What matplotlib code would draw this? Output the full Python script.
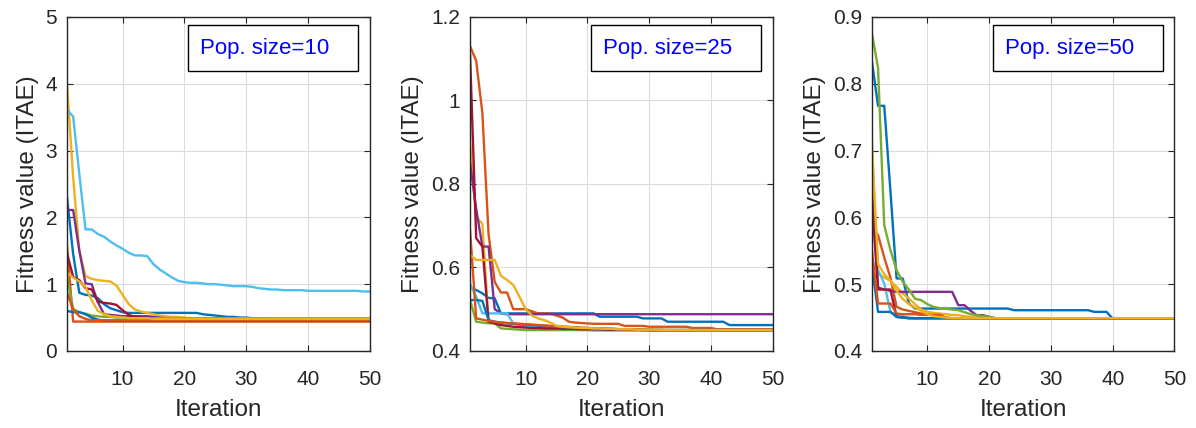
import matplotlib
matplotlib.use("Agg")
import matplotlib.pyplot as plt
from matplotlib.patches import Rectangle
from matplotlib.ticker import FuncFormatter

plt.rcParams['font.family'] = ['Liberation Sans', 'DejaVu Sans']

iteracoes = list(range(1, 51))

# Pop. size = 10
p10_blue1 = [2.30, 1.45, 0.87, 0.84, 0.83, 0.79, 0.70, 0.64, 0.61, 0.58,
             0.57, 0.57, 0.57, 0.57, 0.57, 0.57, 0.57, 0.57, 0.57, 0.57,
             0.57, 0.57, 0.55, 0.54, 0.53, 0.52, 0.51, 0.51, 0.50, 0.50,
             0.49, 0.49, 0.49, 0.48, 0.48, 0.48, 0.48, 0.48, 0.48, 0.48,
             0.48, 0.48, 0.48, 0.48, 0.48, 0.48, 0.48, 0.48, 0.48, 0.48]
p10_orange1 = [1.58, 0.44, 0.44, 0.44, 0.44, 0.44, 0.44, 0.44, 0.44, 0.44,
               0.44, 0.44, 0.44, 0.44, 0.44, 0.44, 0.44, 0.44, 0.44, 0.44,
               0.44, 0.44, 0.44, 0.44, 0.44, 0.44, 0.44, 0.44, 0.44, 0.44,
               0.44, 0.44, 0.44, 0.44, 0.44, 0.44, 0.44, 0.44, 0.44, 0.44,
               0.44, 0.44, 0.44, 0.44, 0.44, 0.44, 0.44, 0.44, 0.44, 0.44]
p10_yellow1 = [4.00, 2.60, 1.50, 1.12, 1.08, 1.06, 1.05, 1.04, 0.98, 0.84,
               0.70, 0.62, 0.59, 0.57, 0.55, 0.53, 0.52, 0.51, 0.51, 0.50,
               0.49, 0.49, 0.49, 0.49, 0.49, 0.48, 0.48, 0.48, 0.48, 0.48,
               0.48, 0.48, 0.48, 0.48, 0.48, 0.48, 0.48, 0.48, 0.48, 0.48,
               0.48, 0.48, 0.48, 0.48, 0.48, 0.48, 0.48, 0.48, 0.48, 0.48]
p10_purple = [2.11, 2.11, 1.50, 1.01, 1.00, 0.73, 0.55, 0.54, 0.53, 0.52,
              0.52, 0.52, 0.52, 0.52, 0.51, 0.50, 0.49, 0.49, 0.49, 0.49,
              0.47, 0.47, 0.47, 0.47, 0.47, 0.47, 0.47, 0.47, 0.47, 0.47,
              0.47, 0.47, 0.47, 0.47, 0.47, 0.47, 0.47, 0.47, 0.47, 0.47,
              0.47, 0.47, 0.47, 0.47, 0.47, 0.47, 0.47, 0.47, 0.47, 0.47]
p10_green = [1.11, 0.63, 0.58, 0.56, 0.53, 0.52, 0.51, 0.51, 0.50, 0.50,
             0.49, 0.49, 0.49, 0.49, 0.49, 0.49, 0.49, 0.49, 0.49, 0.49,
             0.49, 0.49, 0.49, 0.49, 0.49, 0.49, 0.49, 0.49, 0.49, 0.49,
             0.49, 0.49, 0.49, 0.49, 0.49, 0.49, 0.49, 0.49, 0.49, 0.49,
             0.49, 0.49, 0.49, 0.49, 0.49, 0.49, 0.49, 0.49, 0.49, 0.49]
p10_lightblue = [3.61, 3.51, 2.65, 1.82, 1.82, 1.75, 1.71, 1.64, 1.58, 1.53,
                 1.47, 1.43, 1.43, 1.42, 1.30, 1.22, 1.16, 1.10, 1.05, 1.03,
                 1.02, 1.02, 1.01, 1.00, 1.00, 0.99, 0.98, 0.97, 0.97, 0.97,
                 0.96, 0.94, 0.93, 0.92, 0.92, 0.91, 0.91, 0.91, 0.91, 0.90,
                 0.90, 0.90, 0.90, 0.90, 0.90, 0.90, 0.90, 0.90, 0.89, 0.89]
p10_darkred = [1.46, 1.11, 1.06, 0.94, 0.92, 0.74, 0.72, 0.71, 0.69, 0.61,
               0.54, 0.51, 0.50, 0.49, 0.48, 0.47, 0.47, 0.47, 0.47, 0.47,
               0.47, 0.47, 0.47, 0.47, 0.47, 0.47, 0.47, 0.47, 0.47, 0.47,
               0.47, 0.47, 0.47, 0.47, 0.47, 0.47, 0.47, 0.47, 0.47, 0.47,
               0.47, 0.47, 0.47, 0.47, 0.47, 0.47, 0.47, 0.47, 0.47, 0.47]
p10_blue2 = [0.60, 0.58, 0.58, 0.55, 0.50, 0.47, 0.45, 0.45, 0.45, 0.45,
             0.45, 0.45, 0.45, 0.45, 0.45, 0.45, 0.45, 0.45, 0.45, 0.45,
             0.45, 0.45, 0.45, 0.45, 0.45, 0.45, 0.45, 0.45, 0.45, 0.45,
             0.45, 0.45, 0.45, 0.45, 0.45, 0.45, 0.45, 0.45, 0.45, 0.45,
             0.45, 0.45, 0.45, 0.45, 0.45, 0.45, 0.45, 0.45, 0.45, 0.45]
p10_orange2 = [0.88, 0.62, 0.52, 0.48, 0.46, 0.46, 0.46, 0.46, 0.46, 0.46,
               0.46, 0.46, 0.46, 0.46, 0.46, 0.46, 0.46, 0.46, 0.46, 0.46,
               0.46, 0.46, 0.46, 0.46, 0.46, 0.46, 0.46, 0.46, 0.46, 0.46,
               0.46, 0.46, 0.46, 0.46, 0.46, 0.46, 0.46, 0.46, 0.46, 0.46,
               0.46, 0.46, 0.46, 0.46, 0.46, 0.46, 0.46, 0.46, 0.46, 0.46]
p10_yellow2 = [1.17, 1.10, 1.04, 0.96, 0.76, 0.60, 0.55, 0.52, 0.51, 0.50,
               0.49, 0.49, 0.49, 0.49, 0.48, 0.48, 0.48, 0.48, 0.48, 0.48,
               0.48, 0.48, 0.48, 0.48, 0.48, 0.48, 0.48, 0.48, 0.48, 0.48,
               0.48, 0.48, 0.48, 0.48, 0.48, 0.48, 0.48, 0.48, 0.48, 0.48,
               0.48, 0.48, 0.48, 0.48, 0.48, 0.48, 0.48, 0.48, 0.48, 0.48]

# Pop. size = 25
p25_blue1 = [0.552, 0.546, 0.538, 0.527, 0.526, 0.490, 0.490, 0.490, 0.490, 0.490,
             0.490, 0.490, 0.490, 0.490, 0.490, 0.490, 0.490, 0.490, 0.490, 0.490,
             0.490, 0.482, 0.482, 0.482, 0.482, 0.482, 0.482, 0.482, 0.478, 0.478,
             0.478, 0.478, 0.470, 0.470, 0.470, 0.470, 0.470, 0.470, 0.470, 0.470,
             0.470, 0.470, 0.462, 0.462, 0.462, 0.462, 0.462, 0.462, 0.462, 0.462]
p25_orange1 = [1.130, 1.095, 0.970, 0.680, 0.565, 0.540, 0.540, 0.500, 0.500, 0.500,
               0.495, 0.490, 0.490, 0.490, 0.485, 0.480, 0.470, 0.468, 0.467, 0.466,
               0.465, 0.465, 0.465, 0.465, 0.465, 0.460, 0.460, 0.460, 0.460, 0.458,
               0.458, 0.458, 0.458, 0.458, 0.458, 0.458, 0.455, 0.455, 0.455, 0.455,
               0.452, 0.452, 0.452, 0.452, 0.452, 0.452, 0.452, 0.452, 0.452, 0.452]
p25_yellow1 = [0.896, 0.720, 0.705, 0.470, 0.468, 0.468, 0.467, 0.466, 0.465, 0.464,
               0.463, 0.462, 0.461, 0.460, 0.460, 0.459, 0.458, 0.457, 0.456, 0.455,
               0.455, 0.454, 0.454, 0.453, 0.453, 0.452, 0.452, 0.452, 0.451, 0.451,
               0.451, 0.451, 0.450, 0.450, 0.450, 0.450, 0.450, 0.450, 0.450, 0.450,
               0.450, 0.450, 0.450, 0.450, 0.450, 0.450, 0.450, 0.450, 0.450, 0.450]
p25_purple = [0.850, 0.740, 0.650, 0.650, 0.500, 0.490, 0.488, 0.488, 0.488, 0.488,
              0.488, 0.488, 0.488, 0.488, 0.488, 0.488, 0.488, 0.488, 0.488, 0.488,
              0.488, 0.488, 0.488, 0.488, 0.488, 0.488, 0.488, 0.488, 0.488, 0.488,
              0.488, 0.488, 0.488, 0.488, 0.488, 0.488, 0.488, 0.488, 0.488, 0.488,
              0.488, 0.488, 0.488, 0.488, 0.488, 0.488, 0.488, 0.488, 0.488, 0.488]
p25_green = [0.522, 0.470, 0.468, 0.466, 0.466, 0.454, 0.453, 0.452, 0.451, 0.450,
             0.450, 0.450, 0.450, 0.450, 0.450, 0.450, 0.450, 0.450, 0.450, 0.450,
             0.449, 0.449, 0.449, 0.449, 0.449, 0.449, 0.449, 0.449, 0.449, 0.449,
             0.449, 0.449, 0.449, 0.449, 0.449, 0.449, 0.449, 0.449, 0.449, 0.449,
             0.449, 0.449, 0.449, 0.449, 0.449, 0.449, 0.449, 0.449, 0.449, 0.449]
p25_lightblue = [0.560, 0.530, 0.490, 0.490, 0.490, 0.490, 0.490, 0.466, 0.462, 0.460,
                 0.459, 0.458, 0.457, 0.456, 0.455, 0.455, 0.454, 0.454, 0.453, 0.453,
                 0.452, 0.452, 0.452, 0.451, 0.451, 0.451, 0.451, 0.450, 0.450, 0.450,
                 0.450, 0.450, 0.450, 0.450, 0.450, 0.450, 0.450, 0.450, 0.450, 0.450,
                 0.450, 0.450, 0.450, 0.450, 0.450, 0.450, 0.450, 0.450, 0.450, 0.450]
p25_darkred = [1.110, 0.670, 0.650, 0.470, 0.466, 0.462, 0.460, 0.458, 0.457, 0.456,
               0.455, 0.455, 0.454, 0.454, 0.454, 0.453, 0.453, 0.453, 0.452, 0.452,
               0.452, 0.452, 0.451, 0.451, 0.451, 0.451, 0.451, 0.451, 0.450, 0.450,
               0.450, 0.450, 0.450, 0.450, 0.450, 0.450, 0.450, 0.450, 0.450, 0.450,
               0.450, 0.450, 0.450, 0.450, 0.450, 0.450, 0.450, 0.450, 0.450, 0.450]
p25_blue2 = [0.522, 0.522, 0.520, 0.474, 0.470, 0.468, 0.466, 0.465, 0.464, 0.463,
             0.462, 0.461, 0.460, 0.459, 0.458, 0.457, 0.456, 0.456, 0.455, 0.455,
             0.454, 0.454, 0.453, 0.453, 0.452, 0.452, 0.452, 0.451, 0.451, 0.451,
             0.450, 0.450, 0.450, 0.450, 0.450, 0.450, 0.450, 0.450, 0.450, 0.450,
             0.450, 0.450, 0.450, 0.450, 0.450, 0.450, 0.450, 0.450, 0.450, 0.450]
p25_orange2 = [0.690, 0.478, 0.475, 0.472, 0.470, 0.468, 0.467, 0.466, 0.465, 0.464,
               0.463, 0.462, 0.461, 0.460, 0.459, 0.458, 0.457, 0.456, 0.455, 0.455,
               0.454, 0.454, 0.453, 0.453, 0.452, 0.452, 0.451, 0.451, 0.451, 0.450,
               0.450, 0.450, 0.450, 0.450, 0.450, 0.450, 0.450, 0.450, 0.450, 0.450,
               0.450, 0.450, 0.450, 0.450, 0.450, 0.450, 0.450, 0.450, 0.450, 0.450]
p25_yellow2 = [0.630, 0.618, 0.618, 0.618, 0.618, 0.580, 0.570, 0.558, 0.530, 0.500,
               0.485, 0.478, 0.474, 0.468, 0.460, 0.458, 0.457, 0.456, 0.455, 0.455,
               0.454, 0.454, 0.453, 0.453, 0.452, 0.452, 0.452, 0.451, 0.451, 0.451,
               0.451, 0.450, 0.450, 0.450, 0.450, 0.450, 0.450, 0.450, 0.450, 0.450,
               0.450, 0.450, 0.450, 0.450, 0.450, 0.450, 0.450, 0.450, 0.450, 0.450]

# Pop. size = 50
p50_blue1 = [0.8335, 0.767, 0.767, 0.640, 0.5085, 0.5085, 0.471, 0.4635, 0.4635, 0.4635,
             0.4635, 0.4635, 0.4635, 0.4635, 0.4635, 0.4635, 0.4635, 0.4635, 0.4635, 0.4635,
             0.4635, 0.4635, 0.4635, 0.461, 0.461, 0.461, 0.461, 0.461, 0.461, 0.461,
             0.461, 0.461, 0.461, 0.461, 0.461, 0.461, 0.4585, 0.4585, 0.4585, 0.4485,
             0.4485, 0.4485, 0.4485, 0.4485, 0.4485, 0.4485, 0.4485, 0.4485, 0.4485, 0.4485]
p50_orange1 = [0.5835, 0.5735, 0.540, 0.510, 0.466, 0.462, 0.460, 0.458, 0.456, 0.455,
               0.454, 0.452, 0.450, 0.449, 0.449, 0.449, 0.449, 0.449, 0.449, 0.449,
               0.449, 0.449, 0.449, 0.449, 0.449, 0.449, 0.449, 0.449, 0.449, 0.449,
               0.449, 0.449, 0.449, 0.449, 0.449, 0.449, 0.449, 0.449, 0.449, 0.449,
               0.449, 0.449, 0.449, 0.449, 0.449, 0.449, 0.449, 0.449, 0.449, 0.449]
p50_yellow1 = [0.7135, 0.516, 0.510, 0.505, 0.496, 0.486, 0.4785, 0.470, 0.462, 0.4585,
               0.457, 0.456, 0.455, 0.454, 0.4535, 0.452, 0.451, 0.450, 0.449, 0.449,
               0.449, 0.449, 0.449, 0.449, 0.449, 0.449, 0.449, 0.449, 0.449, 0.449,
               0.449, 0.449, 0.449, 0.449, 0.449, 0.449, 0.449, 0.449, 0.449, 0.449,
               0.449, 0.449, 0.449, 0.449, 0.449, 0.449, 0.449, 0.449, 0.449, 0.449]
p50_purple = [0.620, 0.495, 0.492, 0.490, 0.4885, 0.4885, 0.4885, 0.4885, 0.4885, 0.4885,
              0.4885, 0.4885, 0.4885, 0.4885, 0.4685, 0.4685, 0.460, 0.4535, 0.4535, 0.451,
              0.449, 0.449, 0.449, 0.449, 0.449, 0.449, 0.449, 0.449, 0.449, 0.449,
              0.449, 0.449, 0.449, 0.449, 0.449, 0.449, 0.449, 0.449, 0.449, 0.449,
              0.449, 0.449, 0.449, 0.449, 0.449, 0.449, 0.449, 0.449, 0.449, 0.449]
p50_green = [0.876, 0.8235, 0.5885, 0.551, 0.521, 0.5035, 0.492, 0.478, 0.476, 0.470,
             0.466, 0.464, 0.463, 0.462, 0.461, 0.458, 0.455, 0.4535, 0.452, 0.451,
             0.449, 0.449, 0.449, 0.449, 0.449, 0.449, 0.449, 0.449, 0.449, 0.449,
             0.449, 0.449, 0.449, 0.449, 0.449, 0.449, 0.449, 0.449, 0.449, 0.449,
             0.449, 0.449, 0.449, 0.449, 0.449, 0.449, 0.449, 0.449, 0.449, 0.449]
p50_lightblue = [0.5335, 0.521, 0.501, 0.4585, 0.4535, 0.452, 0.450, 0.449, 0.449, 0.449,
                 0.449, 0.449, 0.449, 0.449, 0.449, 0.449, 0.449, 0.449, 0.449, 0.449,
                 0.449, 0.449, 0.449, 0.449, 0.449, 0.449, 0.449, 0.449, 0.449, 0.449,
                 0.449, 0.449, 0.449, 0.449, 0.449, 0.449, 0.449, 0.449, 0.449, 0.449,
                 0.449, 0.449, 0.449, 0.449, 0.449, 0.449, 0.449, 0.449, 0.449, 0.449]
p50_darkred = [0.646, 0.492, 0.492, 0.492, 0.451, 0.450, 0.449, 0.449, 0.449, 0.449,
               0.449, 0.449, 0.449, 0.449, 0.449, 0.449, 0.449, 0.449, 0.449, 0.449,
               0.449, 0.449, 0.449, 0.449, 0.449, 0.449, 0.449, 0.449, 0.449, 0.449,
               0.449, 0.449, 0.449, 0.449, 0.449, 0.449, 0.449, 0.449, 0.449, 0.449,
               0.449, 0.449, 0.449, 0.449, 0.449, 0.449, 0.449, 0.449, 0.449, 0.449]
p50_blue2 = [0.530, 0.4585, 0.4585, 0.4585, 0.451, 0.450, 0.449, 0.449, 0.449, 0.449,
             0.449, 0.449, 0.449, 0.449, 0.449, 0.449, 0.449, 0.449, 0.449, 0.449,
             0.449, 0.449, 0.449, 0.449, 0.449, 0.449, 0.449, 0.449, 0.449, 0.449,
             0.449, 0.449, 0.449, 0.449, 0.449, 0.449, 0.449, 0.449, 0.449, 0.449,
             0.449, 0.449, 0.449, 0.449, 0.449, 0.449, 0.449, 0.449, 0.449, 0.449]
p50_orange2 = [0.550, 0.471, 0.471, 0.471, 0.456, 0.455, 0.455, 0.455, 0.454, 0.454,
               0.454, 0.454, 0.450, 0.449, 0.449, 0.449, 0.449, 0.449, 0.449, 0.449,
               0.449, 0.449, 0.449, 0.449, 0.449, 0.449, 0.449, 0.449, 0.449, 0.449,
               0.449, 0.449, 0.449, 0.449, 0.449, 0.449, 0.449, 0.449, 0.449, 0.449,
               0.449, 0.449, 0.449, 0.449, 0.449, 0.449, 0.449, 0.449, 0.449, 0.449]
p50_yellow2 = [0.700, 0.530, 0.515, 0.505, 0.490, 0.478, 0.470, 0.465, 0.460, 0.455,
               0.452, 0.451, 0.450, 0.449, 0.449, 0.449, 0.449, 0.449, 0.449, 0.449,
               0.449, 0.449, 0.449, 0.449, 0.449, 0.449, 0.449, 0.449, 0.449, 0.449,
               0.449, 0.449, 0.449, 0.449, 0.449, 0.449, 0.449, 0.449, 0.449, 0.449,
               0.449, 0.449, 0.449, 0.449, 0.449, 0.449, 0.449, 0.449, 0.449, 0.449]

# ordem de cores padrão do MATLAB
cores = ['#0072BD', '#D95319', '#EDB120', '#7E2F8E', '#77AC30',
         '#4DBEEE', '#A2142F', '#0072BD', '#D95319', '#EDB120']

paineis = [
    ([p10_blue1, p10_orange1, p10_yellow1, p10_purple, p10_green,
      p10_lightblue, p10_darkred, p10_blue2, p10_orange2, p10_yellow2],
     (0, 5), [0, 1, 2, 3, 4, 5], 'Pop. size=10', 0.056),
    ([p25_blue1, p25_orange1, p25_yellow1, p25_purple, p25_green,
      p25_lightblue, p25_darkred, p25_blue2, p25_orange2, p25_yellow2],
     (0.4, 1.2), [0.4, 0.6, 0.8, 1.0, 1.2], 'Pop. size=25', 0.393),
    ([p50_blue1, p50_orange1, p50_yellow1, p50_purple, p50_green,
      p50_lightblue, p50_darkred, p50_blue2, p50_orange2, p50_yellow2],
     (0.4, 0.9), [0.4, 0.5, 0.6, 0.7, 0.8, 0.9], 'Pop. size=50', 0.729),
]

fig = plt.figure(figsize=(11.96, 4.28), dpi=100)
escuro = '#262626'

for series, ylim, yticks, rotulo, esq in paineis:
    ax = fig.add_axes([esq, 0.18, 0.253, 0.7804])
    for k, s in enumerate(series):
        ax.plot(iteracoes, s, color=cores[k], linewidth=1.7)
    ax.set_xlim(1, 50)
    ax.set_ylim(*ylim)
    ax.set_xticks([10, 20, 30, 40, 50])
    ax.set_yticks(yticks)
    ax.yaxis.set_major_formatter(FuncFormatter(lambda v, p: '%g' % round(v, 2)))
    ax.grid(True, color='#dcdcdc', linewidth=0.8)
    ax.set_axisbelow(True)
    for sp in ax.spines.values():
        sp.set_color(escuro)
        sp.set_linewidth(1.0)
    ax.tick_params(direction='in', length=4, width=0.8, colors=escuro,
                   labelsize=15, top=True, right=True)
    ax.tick_params(axis='x', pad=14)
    ax.tick_params(axis='y', pad=7)
    ax.set_xlabel('Iteration', fontsize=17.5, color=escuro, labelpad=7)
    ax.set_ylabel('Fitness value (ITAE)', fontsize=17.5, color=escuro, labelpad=5)
    ax.add_patch(Rectangle((0.40, 0.838), 0.562, 0.138, transform=ax.transAxes,
                           facecolor='white', edgecolor='black', linewidth=1.0,
                           zorder=5))
    ax.text(0.44, 0.907, rotulo, transform=ax.transAxes, color='blue',
            fontsize=16, va='center', ha='left', zorder=6)

fig.savefig('out.png', dpi=100)
